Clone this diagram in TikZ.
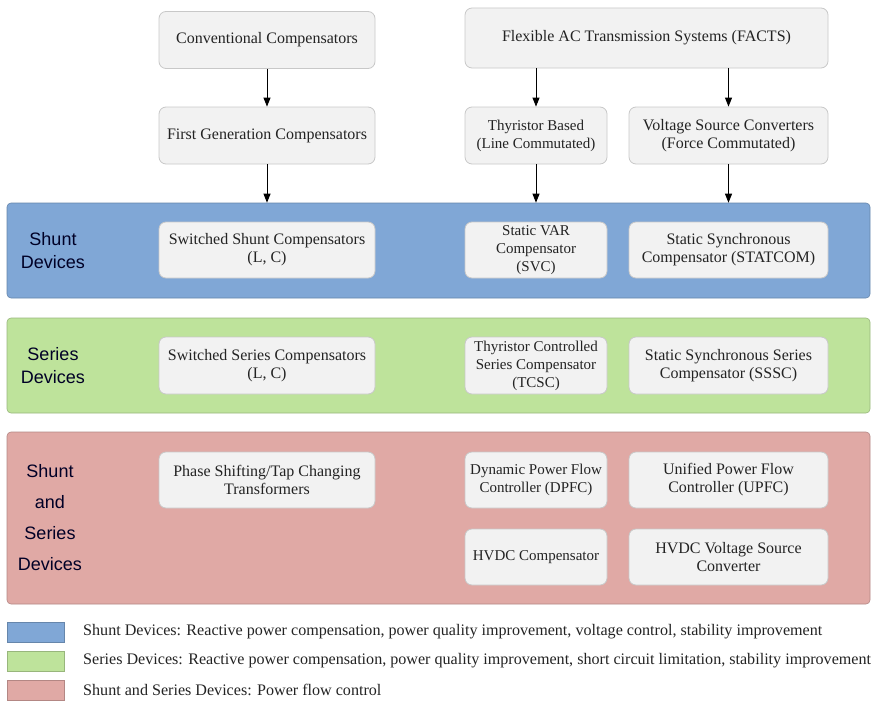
\documentclass[tikz,border=0pt]{standalone}
\usepackage{fontspec}
\setmainfont{Liberation Serif}
\newfontfamily\labfont{Liberation Sans}
\usetikzlibrary{arrows.meta}
\definecolor{bandblue}{RGB}{128,167,214}
\definecolor{bandgreen}{RGB}{190,227,155}
\definecolor{bandred}{RGB}{224,169,165}
\definecolor{boxfill}{RGB}{242,242,242}
\definecolor{boxline}{RGB}{200,200,200}
\definecolor{txt}{RGB}{35,35,35}
\tikzset{
  box/.style={draw=boxline, line width=0.8pt, fill=boxfill, rounded corners=7pt, align=center,
    text=txt, font=\fontsize{16}{18}\selectfont, inner sep=0pt},
  nbox/.style={box, font=\fontsize{15}{18}\selectfont, minimum width=142pt},
  band/.style={draw=#1!80!black, line width=0.6pt, fill=#1, rounded corners=4pt, inner sep=0pt},
  blab/.style={font=\labfont\fontsize{18}{23}\selectfont, text=black!85!blue, align=center},
  arr/.style={-{Triangle[length=9pt,width=7pt]}, line width=0.9pt, black},
  swatch/.style={draw=#1!80!black, line width=0.6pt, fill=#1, inner sep=0pt, minimum width=57pt, minimum height=20pt},
  legtxt/.style={font=\fontsize{16.1}{18}\selectfont, text=txt, anchor=west, inner sep=0pt}
}
\begin{document}
\begin{tikzpicture}[x=1pt,y=-1pt]
\useasboundingbox (0,0) rectangle (880,701);
% bands
\node[band=bandblue, minimum width=863pt, minimum height=95pt] (shuntband) at (438.5,250.5) {};
\node[band=bandgreen, minimum width=863pt, minimum height=95pt] (seriesband) at (438.5,365.5) {};
\node[band=bandred, minimum width=863pt, minimum height=172pt] (bothband) at (438.5,518) {};
\node[blab] (shuntlab) at (53,250.5) {Shunt\\Devices};
\node[blab] (serieslab) at (53,365.5) {Series\\Devices};
\node[blab, font=\labfont\fontsize{18}{31}\selectfont] (bothlab) at (50,518) {Shunt\\and\\Series\\Devices};
% top boxes
\node[box, minimum width=216pt, minimum height=57pt] (conv) at (267,40) {Conventional Compensators};
\node[box, minimum width=216pt, minimum height=57pt] (first) at (267,135.5) {First Generation Compensators};
\node[box, minimum width=363pt, minimum height=60pt] (facts) at (646.5,38) {Flexible AC Transmission Systems (FACTS)};
\node[nbox, minimum height=57pt] (thy) at (536,135.5) {Thyristor Based\\(Line Commutated)};
\node[box, minimum width=199pt, minimum height=57pt] (vsc) at (728.5,135.5) {Voltage Source Converters\\(Force Commutated)};
% shunt row
\node[box, minimum width=216pt, minimum height=56pt] (ssc) at (267,250) {Switched Shunt Compensators\\(L, C)};
\node[nbox, minimum height=56pt] (svc) at (536,250) {Static VAR\\Compensator\\(SVC)};
\node[box, minimum width=199pt, minimum height=56pt] (statcom) at (728.5,250) {Static Synchronous\\Compensator (STATCOM)};
% series row
\node[box, minimum width=216pt, minimum height=57pt] (sserc) at (267,365.5) {Switched Series Compensators\\(L, C)};
\node[nbox, minimum height=57pt] (tcsc) at (536,365.5) {Thyristor Controlled\\Series Compensator\\(TCSC)};
\node[box, minimum width=199pt, minimum height=57pt] (sssc) at (728.5,365.5) {Static Synchronous Series\\Compensator (SSSC)};
% both row
\node[box, minimum width=216pt, minimum height=56pt] (pst) at (267,480) {Phase Shifting/Tap Changing\\Transformers};
\node[nbox, minimum height=56pt] (dpfc) at (536,480) {Dynamic Power Flow\\Controller (DPFC)};
\node[box, minimum width=199pt, minimum height=56pt] (upfc) at (728.5,480) {Unified Power Flow\\Controller (UPFC)};
\node[nbox, minimum height=56pt] (hvdc) at (536,557) {HVDC Compensator};
\node[box, minimum width=199pt, minimum height=56pt] (hvsc) at (728.5,557) {HVDC Voltage Source\\Converter};
% arrows
\draw[arr] (conv) -- (first);
\draw[arr] (first) -- (first.south |- shuntband.north);
\draw[arr] (facts.south -| thy.north) -- (thy);
\draw[arr] (facts.south -| vsc.north) -- (vsc);
\draw[arr] (thy) -- (thy.south |- shuntband.north);
\draw[arr] (vsc) -- (vsc.south |- shuntband.north);
% legend
\node[swatch=bandblue] (sw1) at (35.5,632) {};
\node[swatch=bandgreen] (sw2) at (35.5,661) {};
\node[swatch=bandred] (sw3) at (35.5,690) {};
\node[legtxt] (lt1) at (83,632) {Shunt Devices: Reactive power compensation, power quality improvement, voltage control, stability improvement};
\node[legtxt] (lt2) at (83,661) {Series Devices: Reactive power compensation, power quality improvement, short circuit limitation, stability improvement};
\node[legtxt] (lt3) at (83,690) {Shunt and Series Devices: Power flow control};
\end{tikzpicture}
\end{document}
